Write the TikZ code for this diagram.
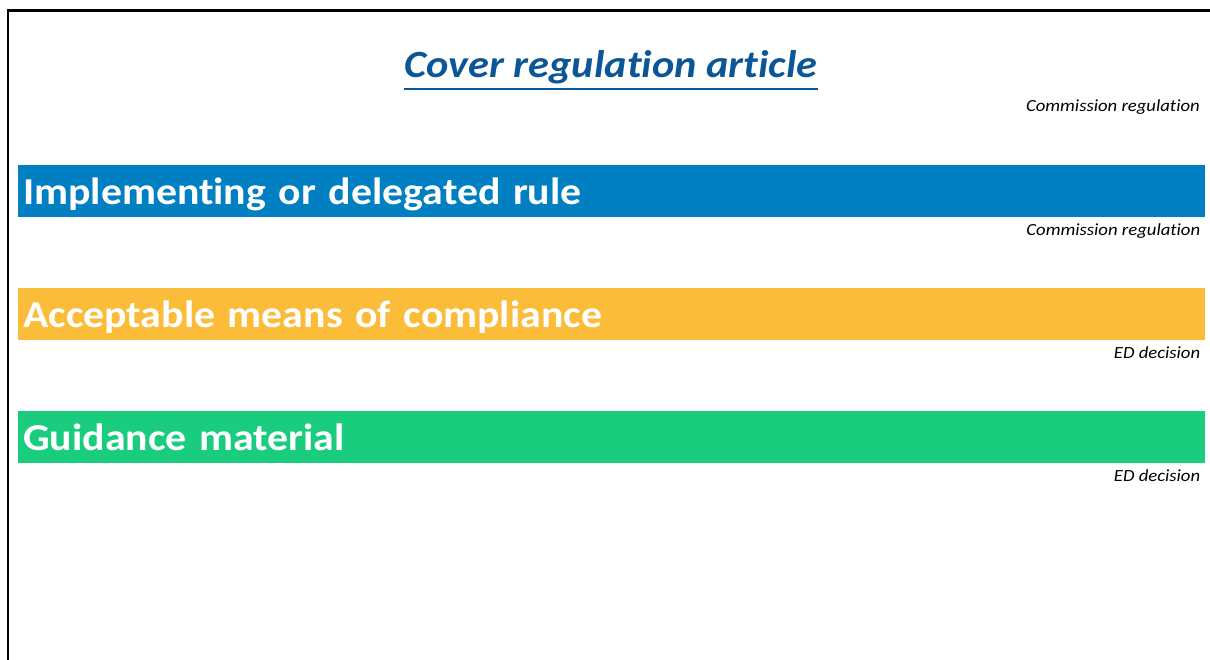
\documentclass[tikz,border=0pt]{standalone}
\usepackage{fontspec}
\setmainfont{Carlito}[Ligatures=NoCommon,FakeStretch=1.1]
\usetikzlibrary{positioning}
\definecolor{titleblue}{RGB}{10,86,150}
\definecolor{ruleblue}{RGB}{0,128,195}
\definecolor{amcorange}{RGB}{251,188,58}
\definecolor{gmgreen}{RGB}{26,204,126}
\tikzset{
	bar/.style={anchor=north west,inner xsep=5pt,inner ysep=0pt,text width=1177pt,align=left,
		text height=39pt,text depth=13pt,text=white,font=\fontsize{38}{42}\selectfont\bfseries},
	srcnote/.style={anchor=base east,inner sep=0pt,font=\fontsize{17}{19}\selectfont\itshape}
}
\begin{document}
	\begin{tikzpicture}[x=1pt,y=-1pt]
		\useasboundingbox (0,0) rectangle (1210,660);
		\draw[line width=2.3pt] (7.7,660) -- (7.7,10.5) -- (1210,10.5);
		\node[anchor=base,inner sep=0pt,text=titleblue,font=\fontsize{38.5}{42}\selectfont\bfseries\itshape] (title) at (611,78) {Cover regulation article};
		\draw[titleblue,line width=2.3pt] ([yshift=-11pt]title.base west) -- ([yshift=-11pt]title.base east);
		\node[srcnote] (titlesrc) at (1200,112) {Commission regulation};
		\node[bar,fill=ruleblue] (rule) at (18,165) {Implementing or delegated rule};
		\node[srcnote] (rulesrc) at ([xshift=-5pt,yshift=-18pt]rule.south east) {Commission regulation};
		\node[bar,fill=amcorange] (amc) at (18,288) {Acceptable means of compliance};
		\node[srcnote] (amcsrc) at ([xshift=-5pt,yshift=-18pt]amc.south east) {ED decision};
		\node[bar,fill=gmgreen] (gm) at (18,411) {Guidance material};
		\node[srcnote] (gmsrc) at ([xshift=-5pt,yshift=-18pt]gm.south east) {ED decision};
		%\draw[dashed] (rule) -- (amc);
	\end{tikzpicture}
\end{document}
